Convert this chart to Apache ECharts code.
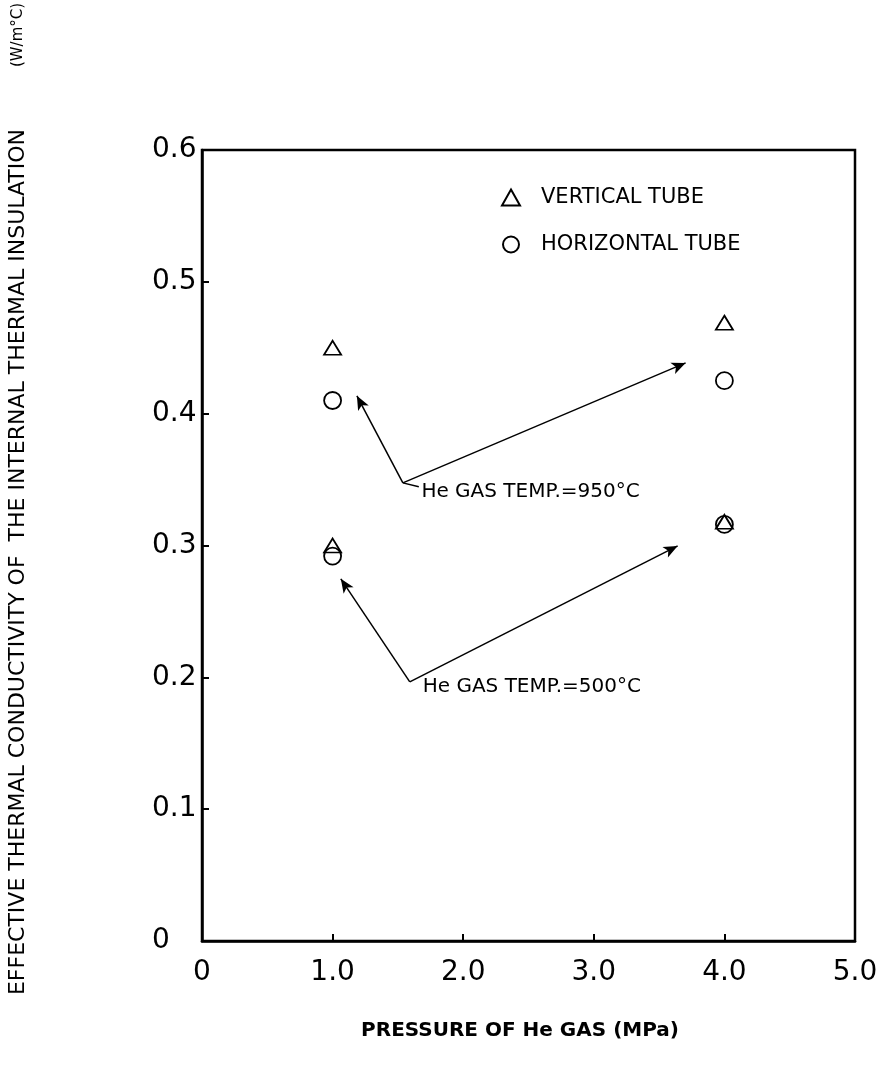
<!DOCTYPE html>
<html>
<head>
<meta charset="utf-8">
<script src="https://cdn.jsdelivr.net/npm/echarts@6/dist/echarts.min.js"></script>
<style>
  html, body { margin: 0; padding: 0; background: #fff; }
  #chart { width: 892px; height: 1067px; }
</style>
</head>
<body>
<div id="chart"></div>
<script>
// pressure of He gas (MPa)
var pressure = [1.0, 4.0];
// effective thermal conductivity (W/m°C)
var vertical950 = [0.450, 0.469];
var horizontal950 = [0.410, 0.425];
var vertical500 = [0.300, 0.318];
var horizontal500 = [0.292, 0.316];

var xTicks = [0, 1, 2, 3, 4, 5];
var yTicks = [0, 0.1, 0.2, 0.3, 0.4, 0.5, 0.6];

// annotation arrows: [start, end] in data coords
var arrows950 = [
  [[1.538, 0.3475], [1.186, 0.4135]],
  [[1.538, 0.3475], [3.703, 0.4385]]
];
var arrows500 = [
  [[1.591, 0.1965], [1.063, 0.2747]],
  [[1.591, 0.1965], [3.642, 0.2997]]
];
var dash950 = [[1.538, 0.3475], [1.66, 0.3445]];
var notes = [
  [1.68, 0.3407, 'He GAS TEMP.=950°C'],
  [1.69, 0.1925, 'He GAS TEMP.=500°C']
];

var font = 'DejaVu Sans';

function pairs(xs, a, b) {
  var out = [];
  for (var i = 0; i < xs.length; i++) {
    out.push([xs[i], a[i]]);
    out.push([xs[i], b[i]]);
  }
  return out;
}

function arrowLines(list, withHead) {
  return list.map(function (p) {
    return [
      { coord: p[0], symbol: 'none' },
      { coord: p[1], symbol: withHead ? 'arrow' : 'none' }
    ];
  });
}

function tickText(v) {
  return v === 0 ? '0' : v.toFixed(1);
}

var chart = echarts.init(document.getElementById('chart'));

var option = {
  backgroundColor: '#fff',
  animation: false,
  textStyle: { fontFamily: font, color: '#000' },
  grid: {
    left: 202, right: 37, top: 150, bottom: 126,
    show: true, borderColor: '#000', borderWidth: 2.5
  },
  legend: {
    orient: 'vertical',
    left: 501, top: 187, padding: 0,
    itemWidth: 18, itemHeight: 16, itemGap: 26,
    textStyle: { fontSize: 21, fontFamily: font, color: '#000', padding: [0, 0, 0, 16] },
    data: ['VERTICAL TUBE', 'HORIZONTAL TUBE']
  },
  xAxis: {
    type: 'value', min: 0, max: 5, interval: 1,
    axisLine: { lineStyle: { color: '#000', width: 2.5 } },
    axisTick: { inside: true, length: 7, lineStyle: { color: '#000', width: 2 } },
    splitLine: { show: false },
    axisLabel: { margin: 18, fontSize: 28, color: '#000', fontFamily: font, formatter: tickText }
  },
  yAxis: {
    type: 'value', min: 0, max: 0.6, interval: 0.1,
    axisLine: { lineStyle: { color: '#000', width: 2.5 } },
    axisTick: { inside: true, length: 7, lineStyle: { color: '#000', width: 2 } },
    splitLine: { show: false },
    axisLabel: { margin: 50, align: 'left', fontSize: 28, color: '#000', fontFamily: font, formatter: tickText }
  },
  graphic: [
    {
      type: 'text', x: 18, y: 562, rotation: Math.PI / 2,
      style: {
        text: 'EFFECTIVE THERMAL CONDUCTIVITY OF  THE INTERNAL THERMAL INSULATION',
        font: '22px "DejaVu Sans"', fill: '#000',
        textAlign: 'center', textVerticalAlign: 'middle'
      }
    },
    {
      type: 'text', x: 18, y: 35, rotation: Math.PI / 2,
      style: {
        text: '(W/m°C)',
        font: '15px "DejaVu Sans"', fill: '#000',
        textAlign: 'center', textVerticalAlign: 'middle'
      }
    },
    {
      type: 'text', x: 520, y: 1031,
      style: {
        text: 'PRESSURE OF He GAS (MPa)',
        font: 'bold 20px "DejaVu Sans"', fill: '#000',
        textAlign: 'center', textVerticalAlign: 'middle'
      }
    }
  ],
  series: [
    {
      name: 'VERTICAL TUBE',
      type: 'scatter',
      symbol: 'triangle',
      symbolSize: [17, 14],
      itemStyle: { color: '#fff', borderColor: '#000', borderWidth: 1.8, opacity: 1 },
      data: pairs(pressure, vertical950, vertical500),
      z: 3
    },
    {
      name: 'HORIZONTAL TUBE',
      type: 'scatter',
      symbol: 'circle',
      symbolSize: 17,
      itemStyle: { color: 'rgba(255,255,255,0)', borderColor: '#000', borderWidth: 1.8, opacity: 1 },
      data: pairs(pressure, horizontal950, horizontal500),
      z: 4
    },
    {
      name: 'notes',
      type: 'scatter',
      symbolSize: 0,
      silent: true,
      itemStyle: { opacity: 1 },
      data: notes.map(function (n) { return { value: [n[0], n[1]], name: n[2] }; }),
      label: {
        show: true, position: 'right', distance: 0,
        formatter: '{b}', fontSize: 20, fontFamily: font, color: '#000',
        textBorderWidth: 0
      },
      markLine: {
        silent: true,
        symbolSize: [9, 14],
        label: { show: false },
        lineStyle: { color: '#000', width: 1.5, type: 'solid' },
        data: arrowLines(arrows950, true)
          .concat(arrowLines(arrows500, true))
          .concat(arrowLines([dash950], false))
      }
    }
  ]
};

chart.setOption(option);
</script>
</body>
</html>
